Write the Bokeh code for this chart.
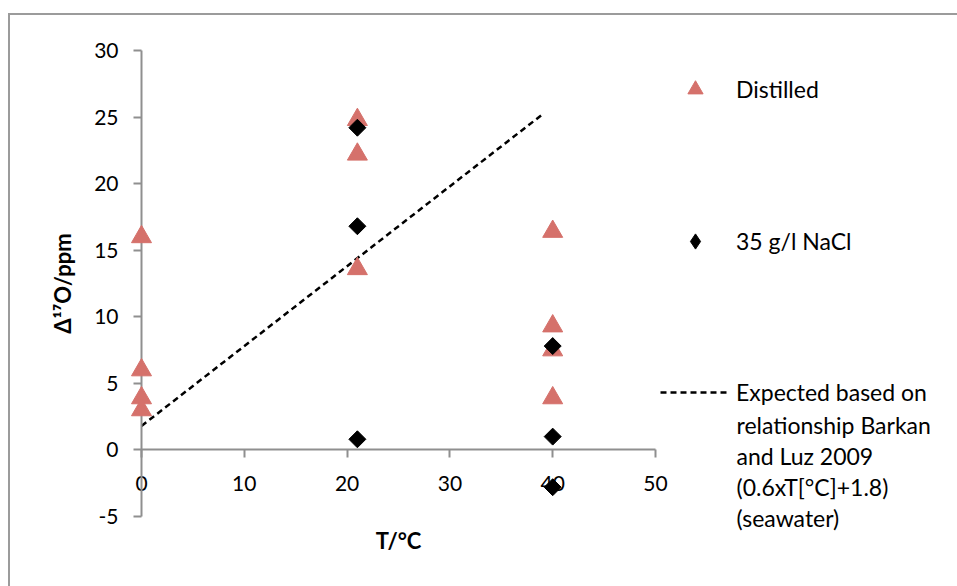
import numpy as np
from bokeh.plotting import figure
from bokeh.models import Range1d, FixedTicker, Legend, LegendItem, Label
from bokeh.embed import file_html
from bokeh.resources import INLINE

# ---- data ----
distilled_T = [0, 0, 0, 0, 21, 21, 21, 40, 40, 40, 40]
distilled_D17O = [16.0, 6.0, 3.9, 3.0, 24.8, 22.2, 13.6, 16.4, 9.3, 7.5, 3.9]
nacl_T = [21, 21, 21, 40, 40, 40]
nacl_D17O = [24.2, 16.8, 0.8, 7.8, 1.0, -2.8]
expected_T = [0, 39]
expected_D17O = [1.8, 25.2]
x_ticks = [0, 10, 20, 30, 40, 50]
y_ticks = [-5, 0, 5, 10, 15, 20, 25, 30]
y_tick_labels = {t: str(t) for t in y_ticks}
x_title = "T/°C"
y_title = "Δ¹⁷O/ppm"
legend_labels = ["Distilled", "35 g/l NaCl", "Expected based on"]
expected_note_lines = ["relationship Barkan", "and Luz 2009", "(0.6xT[°C]+1.8)", "(seawater)"]

FONT = "Lato"
GRAY = "#8f8f8f"
RED = "#D5716B"
W, H = 957, 586
# pixel placement of the axes box (x: 0..50, y: -5..30)
X0PX, X50PX, YM5PX, Y30PX = 141, 655, 516, 50
sx = (X50PX - X0PX) / 50.0
sy = (YM5PX - Y30PX) / 35.0

p = figure(width=W, height=H, output_backend="svg", toolbar_location=None,
           x_range=Range1d(-X0PX / sx, (W - X0PX) / sx),
           y_range=Range1d(-5 - (H - YM5PX) / sy, 30 + Y30PX / sy),
           min_border_left=0, min_border_right=0,
           min_border_top=0, min_border_bottom=0)
p.title.visible = False
p.border_fill_color = None
p.background_fill_color = None
p.outline_line_color = None
p.xgrid.visible = False
p.ygrid.visible = False
p.styles = {
    "background-color": "white",
    "background-image": "linear-gradient(#9b9b9b,#9b9b9b), linear-gradient(#9b9b9b,#9b9b9b)",
    "background-size": "100% 2px, 2px 100%",
    "background-position": "8px 13px, 8px 13px",
    "background-repeat": "no-repeat",
}

for ax, ticks, bnds in ((p.xaxis[0], x_ticks, (0, 50)), (p.yaxis[0], y_ticks, (-5, 30))):
    ax.fixed_location = 0
    ax.bounds = bnds
    ax.ticker = FixedTicker(ticks=ticks)
    ax.minor_tick_line_color = None
    ax.major_tick_in = 0
    ax.major_tick_out = 8
    ax.axis_line_color = GRAY
    ax.axis_line_width = 2
    ax.major_tick_line_color = GRAY
    ax.major_tick_line_width = 2
    ax.major_label_text_font = FONT
    ax.major_label_text_font_size = "21px"
    ax.major_label_text_color = "black"
    ax.axis_label_text_font = FONT
    ax.axis_label_text_font_style = "bold"
    ax.axis_label_text_font_size = "22px"
    ax.axis_label_text_color = "black"

p.yaxis[0].major_label_overrides = y_tick_labels
p.xaxis[0].axis_label = x_title
p.xaxis[0].major_label_standoff = 18
p.xaxis[0].axis_label_standoff = 33
p.yaxis[0].axis_label = y_title
p.yaxis[0].major_label_standoff = 15
p.yaxis[0].axis_label_standoff = 15

line_r = p.line(expected_T, expected_D17O, line_color="black", line_width=2.5, line_dash="6 4")
tri_r = p.scatter(distilled_T, distilled_D17O, marker="triangle", size=20,
                  fill_color=RED, line_color=RED, line_width=1)
# diamond key for the legend, fully covered by the rotated squares drawn on top
dia_key = p.scatter(nacl_T, nacl_D17O, marker="diamond", size=15,
                    fill_color="black", line_color="black")
dia_r = p.scatter(nacl_T, nacl_D17O, marker="square", angle=np.pi / 4, size=12,
                  fill_color="black", line_color="black")
tri_r.level = "overlay"
dia_key.level = "overlay"
dia_r.level = "overlay"

# (label, renderer, left px, item centre px, glyph box height)
specs = [(legend_labels[0], tri_r, 660, 89, 38),
         (legend_labels[1], dia_key, 660, 241, 38),
         (legend_labels[2], line_r, 660, 392, 20)]
for label, r, px, pyc, gh in specs:
    item_h = max(gh, 28)
    lg = Legend(items=[LegendItem(label=label, renderers=[r])],
                location=(px, H - (pyc + item_h / 2)),
                glyph_width=70, glyph_height=gh, label_standoff=6,
                padding=0, margin=0, spacing=0, label_height=20,
                border_line_color=None, background_fill_alpha=0,
                label_text_font=FONT, label_text_font_size="23px",
                label_text_color="black")
    p.add_layout(lg)

for i, txt in enumerate(expected_note_lines):
    p.add_layout(Label(x=736, y=H - (424 + 31.3 * i), x_units="screen", y_units="screen",
                       text=txt, text_font=FONT, text_font_size="23px",
                       text_color="black", text_baseline="middle", text_align="left"))

open("out.html", "w").write(file_html(p, INLINE))
